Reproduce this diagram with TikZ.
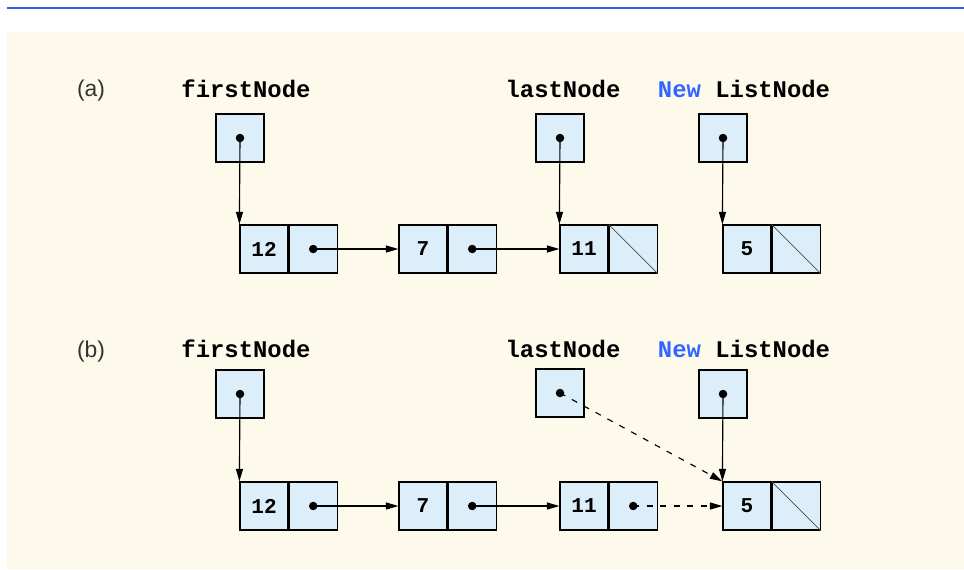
\documentclass[tikz,border=0pt]{standalone}
\usepackage{fontspec}
\setmainfont{Liberation Sans}
\newfontfamily\codefont{Liberation Mono}
\usetikzlibrary{positioning,arrows.meta}
\definecolor{paper}{HTML}{FDF9EB}
\definecolor{cellblue}{HTML}{DCEEF9}
\definecolor{rulecol}{HTML}{2F5FE8}
\definecolor{kwblue}{HTML}{3366FF}
\tikzset{
  cell/.style={draw, fill=cellblue, line width=0.7pt, minimum size=0.96cm, inner sep=0pt,
    font=\codefont\bfseries\fontsize{12}{14}\selectfont},
  varname/.style={anchor=base, font=\codefont\bfseries\fontsize{13.6}{16}\selectfont},
  part/.style={anchor=base, font=\fontsize{13}{15}\selectfont, text=black!80},
  ptr/.style={-{Triangle[length=0.25cm,width=0.14cm]}, line width=0.65pt},
  moved/.style={ptr, dash pattern=on 0.12cm off 0.15cm},
  nil/.style={gray!60!black, line width=0.4pt}
}

\begin{document}
\begin{tikzpicture}[x=0.02cm,y=-0.02cm]
        \useasboundingbox (0,0) rectangle (964,569);
        \fill[paper] (7,32) rectangle (964,569);
        \draw[rulecol,line width=0.045cm] (7,8) -- (964,8);
        % (a)
        \node[part] (pa) at (91,96) {(a)};
        \node[varname] (afirstname) at (246,97) {firstNode};
        \node[varname] (alastname) at (563,97) {lastNode};
        \node[varname] (anewname) at (744,97) {{\color{kwblue}New} ListNode};
        \node[cell] (afirst) at (240,138) {};
        \node[cell] (alast) at (560,138) {};
        \node[cell] (anew) at (723,138) {};
        \node[cell] (a12d) at (264,249) {12};
        \node[cell,right=0pt of a12d] (a12l) {};
        \node[cell] (a7d) at (423,249) {7};
        \node[cell,right=0pt of a7d] (a7l) {};
        \node[cell] (a11d) at (584,249) {11};
        \node[cell,right=0pt of a11d] (a11l) {};
        \node[cell] (a5d) at (747,249) {5};
        \node[cell,right=0pt of a5d] (a5l) {};
        \draw[nil] (a11l.north west) -- (a11l.south east);
        \draw[nil] (a5l.north west) -- (a5l.south east);
        \foreach \n in {afirst,alast,anew,a12l,a7l} \fill (\n) circle (0.085cm);
        \draw[ptr] (afirst.center) -- (a12d.north west);
        \draw[ptr] (alast.center) -- (a11d.north west);
        \draw[ptr] (anew.center) -- (a5d.north west);
        \draw[ptr] (a12l.center) -- (a7d.west);
        \draw[ptr] (a7l.center) -- (a11d.west);
        % (b)
        \node[part] (pb) at (91,357) {(b)};
        \node[varname] (bfirstname) at (246,357) {firstNode};
        \node[varname] (blastname) at (563,357) {lastNode};
        \node[varname] (bnewname) at (744,357) {{\color{kwblue}New} ListNode};
        \node[cell] (bfirst) at (240,394) {};
        \node[cell] (blast) at (560,393) {};
        \node[cell] (bnew) at (723,394) {};
        \node[cell] (b12d) at (264,506) {12};
        \node[cell,right=0pt of b12d] (b12l) {};
        \node[cell] (b7d) at (423,506) {7};
        \node[cell,right=0pt of b7d] (b7l) {};
        \node[cell] (b11d) at (584,506) {11};
        \node[cell,right=0pt of b11d] (b11l) {};
        \node[cell] (b5d) at (747,506) {5};
        \node[cell,right=0pt of b5d] (b5l) {};
        \draw[nil] (b5l.north west) -- (b5l.south east);
        \foreach \n in {bfirst,blast,bnew,b12l,b7l,b11l} \fill (\n) circle (0.085cm);
        \draw[ptr] (bfirst.center) -- (b12d.north west);
        \draw[ptr] (bnew.center) -- (b5d.north west);
        \draw[ptr] (b12l.center) -- (b7d.west);
        \draw[ptr] (b7l.center) -- (b11d.west);
        \draw[moved] (blast.center) -- (b5d.north west);
        \draw[moved] (b11l.center) -- (b5d.west);
    \end{tikzpicture}
\end{document}
